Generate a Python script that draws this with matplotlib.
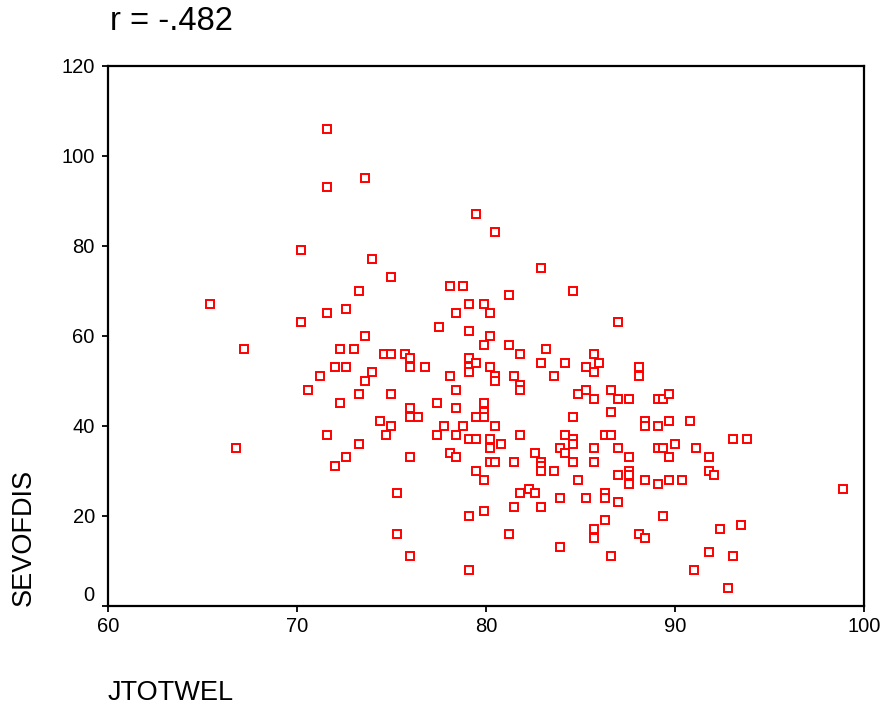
import matplotlib
matplotlib.use("Agg")
import matplotlib.pyplot as plt
import matplotlib.transforms as mtransforms

plt.rcParams["font.family"] = ["Liberation Sans", "DejaVu Sans"]

# ─────────────────────────────
# DATA
# ─────────────────────────────
jtotwel = [
    71.6, 71.6, 73.6, 70.2, 74.0, 75.0, 73.3, 65.4, 71.6, 72.6,
    70.2, 73.6, 67.2, 72.3, 73.0, 74.6, 75.0, 72.0, 72.6, 74.0,
    71.2, 73.6, 70.6, 73.3, 75.0, 72.3, 74.4, 75.0, 71.6, 74.7,
    73.3, 66.8, 72.0, 72.6, 75.3, 75.3,
    79.5, 80.5, 82.9, 78.1, 78.8, 81.2, 84.6, 79.1, 79.9, 78.4,
    80.2, 77.5, 87.0, 79.1, 80.2, 79.9, 81.2, 83.2, 81.8, 75.7,
    76.0, 76.0, 76.8, 79.1, 79.1, 79.1, 79.5, 80.2, 85.7, 82.9,
    84.2, 85.3, 86.0, 85.7, 88.1, 88.1, 78.1, 80.5, 80.5, 81.5,
    83.6, 78.4, 81.8, 81.8, 84.9, 85.3, 86.6, 87.0, 87.6, 85.7,
    76.0, 76.0, 76.4, 77.4, 78.4, 79.9, 79.9, 79.9, 79.5, 80.5,
    77.8, 78.8, 77.4, 78.4, 79.1, 79.5, 80.2, 80.2, 80.8, 81.8,
    84.6, 86.6, 88.4, 88.4, 84.2, 84.6, 84.6, 86.3, 86.6, 83.9,
    84.2, 85.7, 87.0, 76.0, 78.1, 78.4, 80.2, 80.5, 81.5, 82.6,
    82.9, 82.9, 82.9, 83.6, 84.6, 85.7, 87.6, 79.5, 79.9, 84.9,
    87.0, 87.6, 87.6, 87.6, 88.4, 82.3, 81.8, 82.6, 81.5, 82.9,
    83.9, 85.3, 86.3, 86.3, 87.0, 79.1, 79.9, 86.3, 81.2, 83.9,
    85.7, 85.7, 88.1, 88.4, 76.0, 86.6, 79.1,
    89.1, 89.4, 89.7, 89.1, 89.7, 90.8, 89.1, 89.4, 90.0, 91.1,
    93.1, 93.8, 89.7, 91.8, 89.1, 89.7, 90.4, 91.8, 92.1, 98.9,
    89.4, 92.4, 93.5, 91.8, 93.1, 91.0, 92.8,
]
sevofdis = [
    106, 93, 95, 79, 77, 73, 70, 67, 65, 66,
    63, 60, 57, 57, 57, 56, 56, 53, 53, 52,
    51, 50, 48, 47, 47, 45, 41, 40, 38, 38,
    36, 35, 31, 33, 25, 16,
    87, 83, 75, 71, 71, 69, 70, 67, 67, 65,
    65, 62, 63, 61, 60, 58, 58, 57, 56, 56,
    55, 53, 53, 55, 53, 52, 54, 53, 56, 54,
    54, 53, 54, 52, 53, 51, 51, 51, 50, 51,
    51, 48, 49, 48, 47, 48, 48, 46, 46, 46,
    44, 42, 42, 45, 44, 45, 43, 42, 42, 40,
    40, 40, 38, 38, 37, 37, 37, 35, 36, 38,
    42, 43, 41, 40, 38, 37, 36, 38, 38, 35,
    34, 35, 35, 33, 34, 33, 32, 32, 32, 34,
    32, 31, 30, 30, 32, 32, 33, 30, 28, 28,
    29, 30, 29, 27, 28, 26, 25, 25, 22, 22,
    24, 24, 25, 24, 23, 20, 21, 19, 16, 13,
    17, 15, 16, 15, 11, 11, 8,
    46, 46, 47, 40, 41, 41, 35, 35, 36, 35,
    37, 37, 33, 33, 27, 28, 28, 30, 29, 26,
    20, 17, 18, 12, 11, 8, 4,
]

r_text = "r = -.482"
x_ticks = [60, 70, 80, 90, 100]
y_ticks = [0, 20, 40, 60, 80, 100, 120]

# ─────────────────────────────
# DRAW
# ─────────────────────────────
fig = plt.figure(figsize=(8.85, 7.07), dpi=100)
ax = fig.add_axes([0.122, 0.1429, 0.854, 0.7638])

ax.plot(jtotwel, sevofdis, linestyle="none", marker="s",
        markersize=5.8, markerfacecolor="white", markeredgecolor="#ff0000",
        markeredgewidth=1.4)

ax.set_xlim(60, 100)
ax.set_ylim(0, 120)
ax.set_xticks(x_ticks)
ax.set_yticks(y_ticks)
ax.tick_params(direction="out", length=4, width=1.3, labelsize=14.5)
ax.tick_params(axis="y", pad=5.5)
ax.tick_params(axis="x", pad=4)
for s in ax.spines.values():
    s.set_linewidth(1.6)

# SPSS nudges the "0" label up off the corner
fig.canvas.draw()
lbl0 = ax.get_yticklabels()[0]
lbl0.set_transform(lbl0.get_transform() +
                   mtransforms.ScaledTranslation(0, 12 / 100, fig.dpi_scale_trans))

fig.text(110 / 885, 1 - 22 / 707, r_text, fontsize=23.5, ha="left", va="center")
fig.text(108 / 885, 1 - 693 / 707, "JTOTWEL", fontsize=19.5, ha="left", va="center")
fig.text(24 / 885, 1 - 606 / 707, "SEVOFDIS", fontsize=19.5, rotation=90,
         ha="center", va="bottom")

fig.savefig("out.png", dpi=100)
plt.close(fig)
